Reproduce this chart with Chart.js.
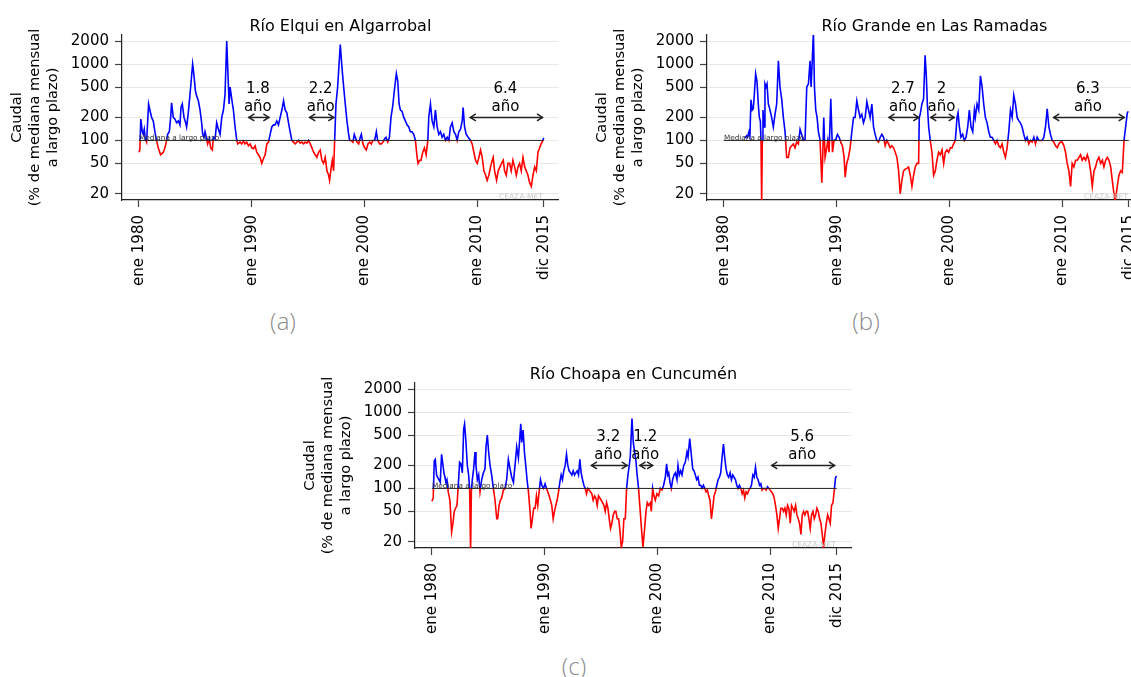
<!DOCTYPE html>
<html><head><meta charset="utf-8">
<script src="https://cdn.jsdelivr.net/npm/chart.js@4/dist/chart.umd.min.js"></script>
<style>
html,body{margin:0;padding:0;background:#fff;overflow:hidden;width:1131px;height:677px;position:relative;}
.panel{position:absolute;}
.lab{position:absolute;font-family:'Open Sans','DejaVu Sans',sans-serif;font-weight:300;font-size:24px;color:#8c8c8c;transform:translate(-50%,-50%);white-space:nowrap;}
</style></head><body>
<canvas id="ca" class="panel" width="570" height="300" style="left:0;top:0"></canvas>
<canvas id="cb" class="panel" width="570" height="300" style="left:585px;top:0"></canvas>
<canvas id="cc" class="panel" width="570" height="300" style="left:293px;top:348px"></canvas>
<div class="lab" style="left:283px;top:320px">(a)</div>
<div class="lab" style="left:866px;top:320px">(b)</div>
<div class="lab" style="left:574px;top:665px">(c)</div>
<script>
// ---------- DATA (month index: 0 = ene 1980) ----------
const tickMonths = [0, 120, 240, 360, 431];
const tickLabels = ['ene 1980', 'ene 1990', 'ene 2000', 'ene 2010', 'dic 2015'];
const yTicks = [20, 50, 100, 200, 500, 1000, 2000];
const medianValue = 100;
const yAxisTitle = ['Caudal', '(% de mediana mensual', 'a largo plazo)'];

const elquiTitle = 'Río Elqui en Algarrobal';
const elquiMonths = [
0,1,2,3.6,4.6,5.7,6.8,8.2,10.3,11.7,
13.5,15.3,17,18.8,20.6,23.1,26,27.7,29.5,30.6,
32.4,33.8,34.8,36.6,38.4,40.2,42,43.7,44.8,46.2,
48,49.8,50.8,52.6,55.1,57.2,58.7,60.1,61.5,63.3,
65.1,66.8,67.9,69.3,70.4,72.2,73.2,75,76.4,78.2,
79.3,81.1,82.8,84.6,86.4,88.2,90,91.7,93.5,94.9,
96,97.1,98.8,100.6,102.4,104.2,105.2,107.7,109.5,111.3,
113,114.8,116.6,118.4,120.2,122,123.7,125.5,127.3,129,
130.8,132.6,134.4,136.2,138,139.7,141.5,143.3,145,146.8,
148.6,150.4,152.2,154,155.7,157.5,159.3,161,162.8,164.6,
166.4,168.2,170,171.7,173.5,175.3,177,178.8,180.6,182.4,
184.2,186,187.7,189.5,191.3,193,194.8,196.6,198.4,200.2,
202,203,204.8,205.9,207.3,208.4,209.8,211.6,214.4,216.2,
218,219.7,221.5,223.3,224.4,225.8,227.9,229.3,230.4,232.2,
234,235.7,236.8,238.6,240.4,242.1,243.9,245.7,247.5,248.9,
251,252.8,254.2,256.4,258.1,259.9,261.7,263.1,264.9,266.7,
268.4,270.2,272.4,274.1,275.6,277,278.4,280.2,282,283.7,
285.5,287.3,289,290.8,292.6,294.4,296.2,297.2,299,300.4,
302.2,304,305.8,307.6,308.6,310.4,312.2,314,315.7,317.5,
319.3,321.1,322.8,324.6,326.4,328.2,330,331.7,333.5,335.3,
337.1,338.8,340.6,342.4,344.2,345.2,346.7,348.5,350.6,353.1,
354.8,356.6,358.4,360.2,362,363.7,365.5,367.3,369.1,370.8,
372.6,374.4,376.2,377.2,378.7,380.8,382.6,384.4,386.1,387.9,
389.3,391.1,392.9,394.7,396.4,398.2,400,401.8,403.6,405.3,
407.1,408.9,410.7,412.4,414.2,416,417.8,419.6,421.3,423.1,
424.9,426.7,428.2,429.7,431];
const elquiValues = [
70,75,190,130,120,140,105,95,300,250,
200,180,130,100,80,65,70,80,100,120,
130,200,310,200,190,170,180,160,270,300,
200,170,150,230,500,1000,700,450,380,330,
250,170,120,110,130,105,90,105,80,75,
110,105,170,140,120,200,250,400,2000,700,
300,500,350,250,150,100,90,95,90,98,
90,95,85,90,80,78,85,70,65,60,
50,58,65,90,95,120,150,160,160,180,
160,200,250,330,250,230,170,130,100,95,
90,95,100,92,95,90,95,92,100,90,
80,70,65,60,70,75,55,50,60,40,
35,30,45,55,40,100,300,500,1800,900,
500,300,180,120,100,100,95,120,110,95,
90,110,120,90,80,75,90,95,90,100,
100,130,100,90,90,95,105,110,95,110,
200,280,500,750,600,300,250,240,200,180,
160,150,130,130,120,100,60,50,55,55,
70,80,65,100,200,300,180,150,250,150,
120,130,110,120,100,110,100,150,170,130,
120,100,130,140,180,270,150,120,110,100,
90,70,55,50,60,75,60,40,35,30,
35,45,55,60,40,30,40,45,50,55,
40,35,50,50,40,55,45,35,45,50,
40,60,45,40,35,28,25,35,45,40,
70,80,90,97,108];
const elquiArrowStart = [116.5, 181.3, 352.3];
const elquiArrowEnd = [138.9, 208, 430.2];
const elquiArrowText = ['1.8', '2.2', '6.4'];

const grandeTitle = 'Río Grande en Las Ramadas';
const grandeMonths = [
22.4,24.2,25.2,26.7,27.7,28.8,30.2,31.3,32.4,33.8,
35.2,36.6,37.7,38.8,39.5,40.2,40.9,41.6,42.7,43.7,
44.8,45.9,47.3,49.1,50.8,52.6,54.4,56.2,58,59.7,
61.5,63.3,65.1,66.8,68.6,70.4,72.2,74,75.7,77.5,
79.3,81.1,82.8,84.6,86.4,88.2,90,91.7,92.8,94.2,
95.3,96.4,97.8,99.2,100.6,102.4,104.2,105.2,106.3,107.7,
109.5,110.6,112,113.8,115.6,117.3,119.1,120.9,122.7,124.4,
126.2,128,129.1,130.8,132.6,134.4,136.2,138,139.7,141.5,
143.3,145,146.8,148.6,150.4,152.2,154,155.7,157.5,159.3,
161,162.8,164.6,166.4,168.2,170,171.7,173.5,175.3,177,
178.8,180.6,182.4,184.2,186,187.7,189.5,191.3,193,194.8,
196.6,198.4,200.2,202,203.7,205.5,207.3,208,209,210.8,
212.6,214.2,215.5,216.6,218,219.7,221.5,223.3,225.1,226.8,
228.6,230.4,232.2,234,235.7,237.5,239.3,241.1,242.8,244.6,
246.4,248.2,249.3,250.7,252.4,254.2,256,257.8,259.6,261.3,
263.1,264.9,266.7,267.7,269.5,271.3,273.1,274.9,276.6,278.4,
280.2,282,283.7,285.5,287.3,289.1,290.8,292.6,294.4,296.2,
298,299.7,301.5,303.3,305.1,306.9,308.6,310.4,312.2,314,
315.7,317.5,319.3,321.1,322.8,324.6,326.4,328.2,330,331.7,
333.5,335.3,337.1,338.8,340.6,342.4,344.2,346,347.7,349.5,
351.3,353.1,354.9,356.6,358.4,360.2,362,363.7,365.5,367.3,
369.1,370.8,372.6,374.4,376.2,378,379.7,381.5,383.3,385.1,
386.9,388.6,390.4,392.2,394,395.7,397.5,399.3,401.1,402.9,
404.6,406.4,408.2,410,411.8,413.5,415.3,416.4,417.8,418.8,
420.6,422.4,424.2,426,427.7,429.5,430.6];
const grandeValues = [
108,115,110,130,115,340,250,260,400,750,
600,300,200,180,100,15,100,250,150,550,
500,550,300,250,200,150,220,300,1100,500,
350,200,130,60,60,80,85,90,80,95,
90,140,120,100,102,500,550,1100,500,1200,
2600,500,250,200,130,101,28,60,200,60,
80,100,70,350,70,100,102,120,110,95,
85,60,33,50,60,80,130,200,200,330,
250,200,220,170,200,320,250,200,300,150,
120,100,95,110,120,110,85,100,90,80,
85,80,70,60,40,20,30,40,42,43,
45,35,25,35,45,50,50,200,220,300,
350,1300,700,300,150,100,70,35,40,55,
70,65,75,50,70,75,70,80,80,90,
100,200,230,150,110,120,100,110,150,250,
150,130,250,200,300,250,700,500,300,200,
170,130,110,110,100,90,100,85,80,90,
70,60,80,130,250,200,390,300,200,180,
170,150,120,100,110,90,100,95,110,90,
110,100,100,100,110,150,260,150,120,100,
95,85,80,90,95,95,85,70,50,40,
25,50,45,55,55,60,65,55,60,55,
65,55,40,25,40,45,55,60,50,55,
45,55,60,55,45,30,20,16,20,25,
35,40,38,100,150,230,240];
const grandeArrowStart = [175.3, 219.7, 350.6];
const grandeArrowEnd = [208, 245.7, 426.7];
const grandeArrowText = ['2.7', '2', '6.3'];

const choapaTitle = 'Río Choapa en Cuncumén';
const choapaMonths = [
0,1.4,2.5,3.6,5,6,7.5,8.9,10.3,11.4,
12.8,13.9,14.9,16,17.4,19.2,21,22.4,23.8,25.2,
26.7,28.1,29.5,30.9,32.4,33.8,34.8,36.3,37.7,39.1,
40.2,41.2,42,43,44.4,45.9,46.9,48.4,49.8,51.2,
53,54.8,56.5,57.6,59,60.4,61.9,63.6,65.4,67.2,
69,70,71.5,72.9,74.3,76.1,77.9,79.6,81.4,83.2,
85,86.8,88.5,90.3,92.1,94.6,95.6,97.1,98.5,99.9,
101.3,102.8,104.5,105.6,107,108.4,109.9,111.3,112.7,114.1,
115.6,117,118.8,120.5,122,123.4,124.8,126.2,127.6,129.1,
130.5,131.9,133.3,134.8,136.2,137.6,139,140.4,141.9,143.3,
144.7,146.1,147.6,149,150.4,151.8,153.2,154.7,156.1,157.5,
158.9,160.4,161.8,163.2,164.6,166,167.5,168.9,170.3,171.7,
173.2,174.6,176,177.4,178.8,180.3,181.7,183.1,184.5,186,
187.4,188.8,190.2,191.6,193.1,194.5,195.9,197.3,198.8,200.2,
201.6,203,204.4,205.9,207.3,208.7,210.1,211.2,213,214.4,
215.8,217.2,218.5,220,221.8,223.6,224.7,226.5,227.9,229.3,
230.7,232.5,233.6,235,236.4,237.8,239.6,241.4,243.2,245,
246.7,248.5,249.9,251,252.1,253.5,254.9,256.3,257.7,259.2,
260.9,262,263.4,264.9,266.3,268.1,269.8,271.6,272.7,274.5,
275.9,277.7,279.1,280.5,281.9,283.3,284.8,286.2,287.6,289,
290.5,291.9,293.3,294.7,296.1,297.6,299,300.4,301.8,303.3,
304.7,306.1,307.5,309,310.4,311.8,313.2,314.6,316,317.5,
318.9,320.3,321.7,323.2,324.6,326,327.4,328.9,330.3,331.7,
333.1,334.5,336,337.4,338.8,340.2,341.7,343.1,344.5,345.9,
347.3,348.8,350.2,351.6,353,354.5,355.9,357.3,358.7,360.1,
361.6,363,364.4,365.8,367.3,368.7,370.1,371.5,372.9,374.4,
375.8,377.2,378.6,380,381.5,382.9,384.3,385.7,387.2,388.6,
390,391.4,392.9,394.3,395.7,397.1,398.5,400,401.4,402.8,
404.2,405.7,407.1,408.5,409.9,411.3,412.8,414.2,415.6,417,
418.4,419.9,421.3,422.7,424.1,425.5,427,428.4,429.8,431];
const choapaValues = [
68,75,230,240,150,140,130,120,280,220,
160,140,120,130,90,70,27,35,50,55,
60,110,220,210,160,600,700,400,200,150,
100,15,90,130,180,300,200,130,150,90,
130,160,180,350,500,300,200,150,100,70,
40,40,60,70,75,95,100,130,240,180,
140,120,200,350,250,700,400,580,300,200,
130,90,50,30,40,55,55,80,60,90,
130,110,100,115,100,90,80,70,60,40,
50,60,70,90,120,150,130,170,200,280,
200,170,160,150,170,150,160,170,150,240,
160,130,110,100,85,100,95,90,85,70,
80,75,60,80,75,70,65,60,50,65,
55,40,30,35,45,50,50,40,40,28,
17,20,40,40,100,150,200,260,820,400,
300,230,150,100,50,25,17,30,50,65,
60,65,50,100,80,70,85,80,100,95,
110,140,210,150,160,120,100,130,150,160,
130,200,150,170,150,200,220,300,260,450,
300,180,170,150,130,140,110,110,100,110,
100,90,95,80,70,40,55,80,90,110,
130,140,160,260,380,250,180,150,140,160,
130,150,140,130,110,100,110,100,85,95,
75,90,85,95,100,110,150,140,190,140,
130,110,115,95,100,100,95,105,100,95,
90,85,75,60,45,30,40,55,55,50,
55,45,60,55,35,60,55,50,60,45,
40,35,25,45,50,45,50,50,40,30,
45,50,40,45,55,50,40,35,25,17,
25,35,45,40,35,60,65,95,140,145];
const choapaArrowStart = [169.3, 221, 361.3];
const choapaArrowEnd = [208.4, 235.5, 429.2];
const choapaArrowText = ['3.2', '1.2', '5.6'];

// ---------- STYLE ----------
const BLUE = '#0000ff', RED = '#ff0000';
const FONT = "'DejaVu Sans', sans-serif";
Chart.defaults.font.family = FONT;
Chart.defaults.color = '#000';

function splitColor(ctx) {
  const chart = ctx.chart, a = chart.chartArea;
  if (!a || !chart.scales.y) return BLUE;
  const yp = chart.scales.y.getPixelForValue(medianValue);
  let f = (yp - a.top) / (a.bottom - a.top);
  f = Math.min(1, Math.max(0, f));
  const g = chart.ctx.createLinearGradient(0, a.top, 0, a.bottom);
  g.addColorStop(0, BLUE); g.addColorStop(f, BLUE);
  g.addColorStop(f, RED); g.addColorStop(1, RED);
  return g;
}

function decorPlugin(cfg) {
  return {
    id: 'decor',
    afterDatasetsDraw(chart) {
      const {ctx, chartArea: a, scales: {x, y}} = chart;
      ctx.save();
      // median label
      ctx.font = '7.3px ' + FONT; ctx.fillStyle = '#333';
      ctx.textAlign = 'left'; ctx.textBaseline = 'alphabetic';
      ctx.fillText('Mediana a largo plazo', x.getPixelForValue(0), y.getPixelForValue(medianValue) - 0.5);
      // watermark
      ctx.font = '7.5px ' + FONT; ctx.fillStyle = '#c8c8c8'; ctx.textAlign = 'right';
      ctx.fillText('CEAZA-MET', x.getPixelForValue(431) - 1, a.bottom - 1);
      // arrows
      const ay = y.getPixelForValue(200);
      ctx.strokeStyle = '#222'; ctx.fillStyle = '#000'; ctx.lineWidth = 1.5;
      for (let i = 0; i < cfg.starts.length; i++) {
        const x1 = x.getPixelForValue(cfg.starts[i]), x2 = x.getPixelForValue(cfg.ends[i]);
        ctx.beginPath(); ctx.moveTo(x1, ay); ctx.lineTo(x2, ay); ctx.stroke();
        ctx.beginPath();
        ctx.moveTo(x1 + 6, ay - 3.5); ctx.lineTo(x1 + 0.5, ay); ctx.lineTo(x1 + 6, ay + 3.5);
        ctx.moveTo(x2 - 6, ay - 3.5); ctx.lineTo(x2 - 0.5, ay); ctx.lineTo(x2 - 6, ay + 3.5);
        ctx.stroke();
        const cx = (x1 + x2) / 2 - 1;
        ctx.font = '15px ' + FONT; ctx.textAlign = 'center'; ctx.textBaseline = 'alphabetic';
        ctx.fillText(cfg.texts[i], cx, ay - 24);
        ctx.fillText('año', cx, ay - 6);
      }
      // title
      ctx.font = '16px ' + FONT; ctx.fillStyle = '#000'; ctx.textAlign = 'center';
      ctx.fillText(cfg.title, (a.left + a.right) / 2 + (cfg.titleDx || 0), 31);
      ctx.restore();
    }
  };
}

function makeChart(id, months, values, starts, ends, texts, title, titleDx) {
  const canvas = document.getElementById(id);
  const H = canvas.height;
  const series = months.map((m, i) => ({x: m, y: values[i]}));
  const median = [{x: tickMonths[0], y: medianValue}, {x: tickMonths[tickMonths.length - 1], y: medianValue}];
  return new Chart(canvas, {
    type: 'line',
    data: {datasets: [
      {data: median, borderColor: '#222', borderWidth: 1, pointRadius: 0, order: 0},
      {data: series, borderColor: splitColor, borderWidth: 1.6, pointRadius: 0, tension: 0, order: 1}
    ]},
    options: {
      responsive: false, animation: false, devicePixelRatio: 1,
      layout: {padding: {left: 0, right: 8, top: 35, bottom: 0}},
      plugins: {legend: {display: false}, tooltip: {enabled: false}, title: {display: false}},
      scales: {
        x: {
          type: 'linear', min: -18, max: 447,
          afterBuildTicks: s => { s.ticks = tickMonths.map(v => ({value: v})); },
          afterFit: s => { s.height = H - 200; },
          ticks: {autoSkip: false, minRotation: 90, maxRotation: 90, padding: 8,
            font: {size: 15}, color: '#000',
            callback: (v, i) => tickLabels[i]},
          grid: {drawOnChartArea: false, drawTicks: true, tickLength: 7, tickColor: '#444', tickWidth: 1.2},
          border: {display: true, color: '#222', width: 1.2}
        },
        y: {
          type: 'logarithmic', min: 16.6, max: 2400,
          afterBuildTicks: s => { s.ticks = yTicks.map(v => ({value: v})); },
          afterFit: s => { s.width = 122; },
          ticks: {padding: 6, font: {size: 15}, color: '#000', callback: v => String(v)},
          grid: {color: '#e8e8e8', lineWidth: 1, drawTicks: true, tickLength: 7, tickColor: '#444', tickWidth: 1.2},
          border: {display: true, color: '#222', width: 1.2},
          title: {display: true, text: yAxisTitle, font: {size: 14.6, lineHeight: 1.23}, padding: {top: 8, bottom: 0}, color: '#000'}
        }
      }
    },
    plugins: [decorPlugin({starts, ends, texts, title, titleDx})]
  });
}

makeChart('ca', elquiMonths, elquiValues, elquiArrowStart, elquiArrowEnd, elquiArrowText, elquiTitle, 0);
makeChart('cb', grandeMonths, grandeValues, grandeArrowStart, grandeArrowEnd, grandeArrowText, grandeTitle, 9);
makeChart('cc', choapaMonths, choapaValues, choapaArrowStart, choapaArrowEnd, choapaArrowText, choapaTitle, 0);
</script>
</body></html>
